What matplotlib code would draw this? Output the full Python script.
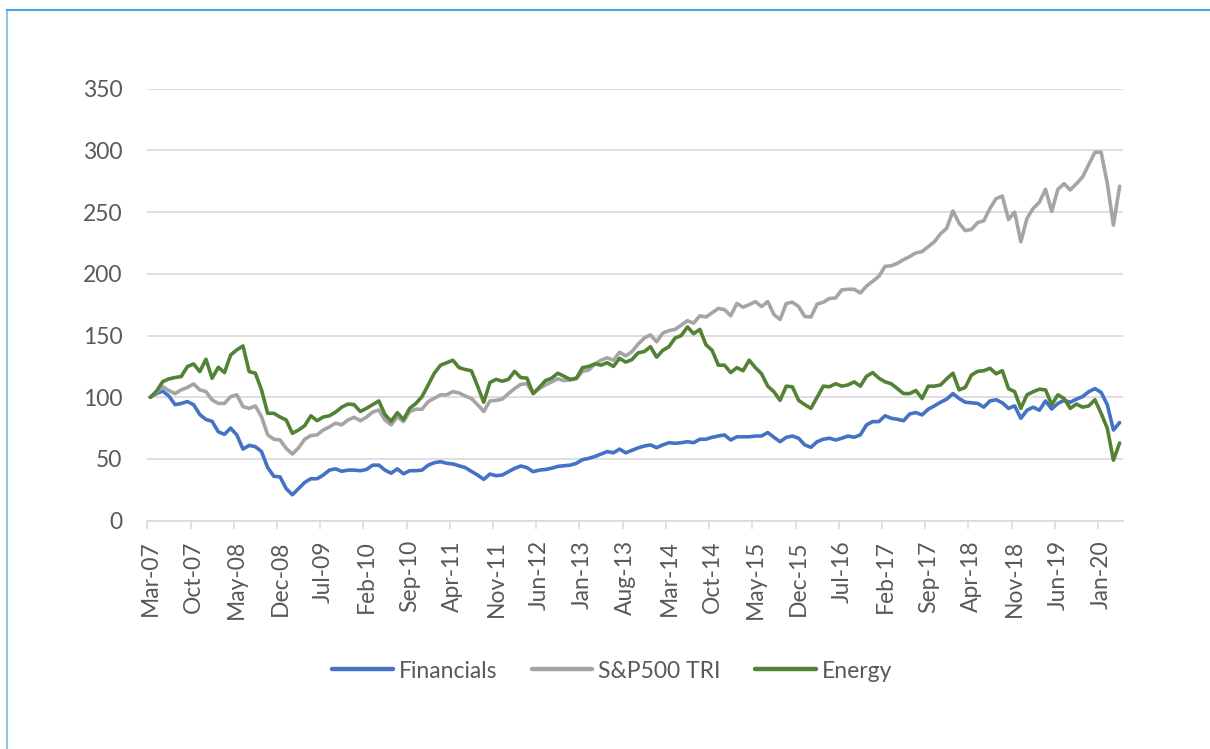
import matplotlib
matplotlib.use("Agg")
import matplotlib.pyplot as plt
import numpy as np
import pandas as pd
from matplotlib.lines import Line2D

plt.rcParams['font.family'] = ['Lato', 'DejaVu Sans']

# ---- data ----
start_month = '2007-03'
n_months = 158
months = list(pd.date_range(start_month, periods=n_months, freq='MS').strftime('%b-%y'))

financials = [
    100, 103, 105, 101, 94, 95, 96.5, 94, 86, 82, 80.5, 72, 70, 75, 69.5, 58, 61, 60, 56, 43,
    36, 35.5, 26, 21, 26, 31, 34, 34, 37, 41, 42, 40, 41, 41, 40.5, 41.5, 45, 45, 41, 38.5,
    42, 38, 40.5, 40.5, 41, 45, 47, 47.8, 46.5, 46, 44.5, 43, 40, 37, 33.5, 37.8, 36.5, 37, 39.7, 42.4,
    44.3, 43, 39.7, 41, 41.5, 42.5, 44, 44.5, 45, 46.5, 49.5, 50.5, 52, 54, 56, 55, 58, 55, 57, 59,
    60.5, 61.4, 59.2, 61.4, 63.2, 62.7, 63.2, 64, 63.2, 66, 66, 67.6, 68.6, 69.5, 65.4, 68, 68, 68, 68.6, 68.6,
    71.4, 67.6, 64, 67.5, 68.6, 66.8, 61.4, 59.5, 64, 66, 66.8, 65.4, 66.8, 68.6, 67.6, 69.5, 77.6, 80.3, 80.3, 85,
    83, 82.2, 81, 86.5, 87.6, 85.7, 90.3, 93, 96, 98.5, 103, 99, 96, 95.5, 95, 92, 97, 98, 95.5, 91,
    93, 83, 89.5, 92, 89.5, 97, 90.5, 95, 97.5, 96, 98.5, 100.5, 104.5, 107, 104, 94, 73.5, 79.5,
]

sp500_tri = [
    100, 104, 108.6, 105.4, 103, 106, 108, 110.8, 106, 104.6, 97.8, 95, 95, 100.5, 102, 92.4, 91, 93, 84.3, 69.5,
    66, 65.4, 58.6, 54, 59, 66, 69, 69.5, 73.5, 76, 79, 77.6, 81.6, 83.8, 81, 83.8, 88, 89.7, 81.6, 77.6,
    84.3, 80.3, 88.4, 90.3, 90.3, 96.5, 99.2, 102, 102, 104.6, 103.5, 101, 99, 94, 88.5, 97, 97.5, 98.5, 103, 107,
    110.5, 111, 103, 107, 110, 112.5, 115, 113.5, 114, 115, 121, 122, 127, 130, 132, 130, 136.5, 133.5, 137, 143,
    148, 150.5, 145, 152, 154, 155, 158.5, 162, 160, 166, 165, 168.5, 172, 171, 166, 176, 173, 175, 177.5, 173.5,
    177.5, 167, 163, 176, 177, 173.5, 165.5, 165, 175.5, 177, 180, 180.5, 187, 187.5, 187.5, 184.5, 190, 194, 198, 206,
    206.5, 208.5, 211.5, 214, 217, 218, 222, 226, 232.5, 237, 251, 241, 235, 236, 241.5, 243, 253, 261, 263, 244,
    250, 226, 245, 253, 258, 268.5, 250.5, 268.5, 273, 268, 273, 278.5, 288.5, 298.5, 298.5, 273.5, 239.5, 271,
]

energy = [
    100, 105, 112.7, 114.9, 116, 116.8, 124.9, 127, 120.8, 130.8, 115.4, 124.3, 120, 134.3, 138.4, 141.6, 120.8, 119.5, 106, 87,
    87, 84, 81.6, 70.8, 73.5, 77, 85, 81, 84, 85, 88, 92, 94.5, 94, 88.5, 91, 94, 97, 86, 80.5,
    87.5, 82, 91, 95, 100.5, 110, 119.5, 126, 128, 130, 124, 122.5, 121.5, 109, 96, 112, 114.5, 113, 114.5, 121,
    116, 115.5, 103, 108, 113.5, 115.5, 119.5, 117, 114.5, 115.5, 124, 125, 127, 126, 128, 125, 131.5, 128.5, 130.5, 136,
    137, 141, 132.5, 138, 141, 148, 150, 157, 151.5, 155, 142.5, 138, 126, 126, 120, 124, 121.5, 130, 124, 119,
    109, 104.5, 97.5, 109, 108.5, 97.5, 94, 91, 100, 109, 108.5, 111, 109, 110, 112.5, 109, 117, 120, 115.5, 112.5,
    111, 107, 103, 103, 105.5, 99, 109, 109, 110, 115, 119.5, 106, 108, 118, 121, 121.5, 123.5, 119, 121.5, 107,
    104.5, 91, 102, 104.5, 106.5, 106, 94, 102, 99, 91, 94.5, 92, 93, 98, 87, 75, 49, 63,
]

series_names = ['Financials', 'S&P500 TRI', 'Energy']
series_colors = ['#4472C4', '#A5A5A5', '#548235']
label_step = 7
y_ticks = [0, 50, 100, 150, 200, 250, 300, 350]

# ---- figure ----
W, H = 1210, 749
fig = plt.figure(figsize=(W / 100, H / 100), dpi=100)
ax = fig.add_axes([147.3 / W, 1 - 520.7 / H, (1122.7 - 147.3) / W, (520.7 - 88.7) / H])

x = np.arange(n_months)
grid_c = '#D9D9D9'
text_c = '#595959'
fs = 16.5

for vals, name, col in zip([financials, sp500_tri, energy], series_names, series_colors):
    ax.plot(x, vals, color=col, lw=2.6, label=name, solid_joinstyle='round', solid_capstyle='round', zorder=3)

ax.set_xlim(-0.5, n_months - 0.5)
ax.set_ylim(0, 350)
ax.set_yticks(y_ticks)
ax.set_yticklabels([str(v) for v in y_ticks])
ax.yaxis.grid(True, color=grid_c, lw=1.2)
ax.set_axisbelow(True)

lab_pos = list(range(0, n_months, label_step))
ax.set_xticks(lab_pos)
ax.set_xticklabels([months[i] for i in lab_pos], rotation=90, va='top', ha='center')
ax.set_xticks([p - 0.5 for p in lab_pos], minor=True)
ax.tick_params(axis='x', which='major', length=0, pad=14, labelsize=fs, labelcolor=text_c)
ax.tick_params(axis='x', which='minor', length=6, width=1.1, color=grid_c)
ax.tick_params(axis='y', length=0, pad=18, labelsize=fs, labelcolor=text_c)

for s in ['top', 'right', 'left']:
    ax.spines[s].set_visible(False)
ax.spines['bottom'].set_color(grid_c)
ax.spines['bottom'].set_linewidth(1.2)

leg = fig.legend(loc='center', bbox_to_anchor=(612 / W, 1 - 671 / H), ncol=3, frameon=False,
                 fontsize=fs, handlelength=2.65, handletextpad=0.25, columnspacing=1.5)
for t in leg.get_texts():
    t.set_color(text_c)
for h in leg.get_lines():
    h.set_linewidth(3.2)

# light blue border of the chart frame
fig.add_artist(Line2D([7 / W, 7 / W], [0, 1 - 10 / H], transform=fig.transFigure, color='#8EC3EA', lw=1.5))
fig.add_artist(Line2D([7 / W, 1], [1 - 10 / H, 1 - 10 / H], transform=fig.transFigure, color='#4DA3E0', lw=1.5))

fig.savefig('out.png', dpi=100, facecolor='white')
